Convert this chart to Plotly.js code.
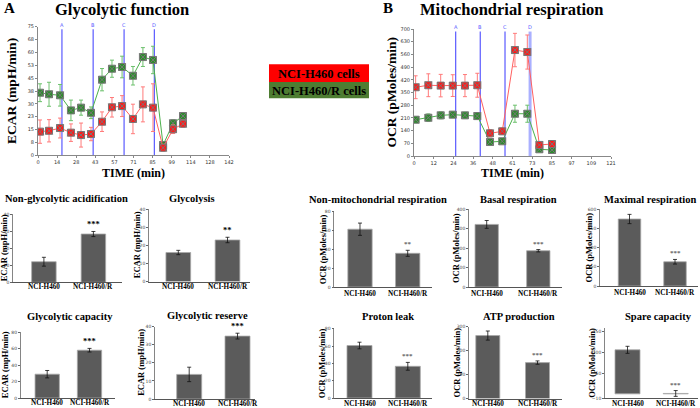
<!DOCTYPE html>
<html><head><meta charset="utf-8">
<script src="https://cdn.plot.ly/plotly-3.0.1.min.js"></script>
<style>html,body{margin:0;padding:0;background:#fff}#chart{width:700px;height:408px}</style>
</head><body><div id="chart"></div>
<script>
// ---------------- DATA ----------------
const cellLines = ['NCI-H460', 'NCI-H460/R'];
const legendLabels = ['NCI-H460 cells', 'NCI-H460/R cells'];
const injectionLabels = ['A', 'B', 'C', 'D'];

// Glycolytic function (ECAR, mpH/min)
const ecarTime = [1.5, 8.2, 16.4, 24.5, 32.0, 39.4, 47.6, 55.0, 62.5, 70.6, 78.0, 85.5, 93.0, 100.4, 107.8];
const ecarH460 = [13.8, 14.3, 15.9, 13.2, 11.8, 12.4, 19.6, 28.0, 28.7, 21.2, 29.7, 27.8, 4.4, 15.2, 18.4];
const ecarH460Err = [6.8, 6.5, 5.8, 5.1, 7.0, 3.9, 5.7, 5.7, 6.1, 8.6, 10.2, 13.9, 2.0, 2.5, 2.0];
const ecarH460R = [36.5, 35.6, 35.0, 26.2, 27.8, 24.8, 44.1, 50.5, 51.5, 46.4, 57.3, 55.6, 6.0, 18.7, 22.9];
const ecarH460RErr = [5.2, 7.0, 6.3, 6.0, 4.4, 3.4, 6.5, 5.0, 6.3, 5.4, 5.5, 8.0, 2.0, 2.0, 1.5];
const ecarInjections = [17.8, 41.0, 64.0, 86.5];
const ecarXTickText = ['0', '14', '28', '43', '57', '71', '85', '99', '114', '128', '142'];
const ecarYTickText = ['0', '8', '15', '23', '30', '38', '45', '53', '60', '68', '75'];

// Mitochondrial respiration (OCR, pMoles/min)
const ocrTime = [1.0, 8.8, 16.4, 23.8, 31.3, 38.9, 46.7, 54.2, 62.0, 69.6, 77.0, 84.8];
const ocrH460 = [379, 390, 388, 388, 388, 390, 125, 136, 584, 573, 61, 66];
const ocrH460Err = [63, 63, 62, 60, 61, 66, 20, 18, 92, 94, 12, 15];
const ocrH460R = [200, 211, 224, 228, 224, 220, 77, 81, 233, 233, 37, 33];
const ocrH460RErr = [16, 21, 19, 16, 16, 19, 6, 6, 47, 47, 6, 6];
const ocrInjections = [25.6, 40.7, 55.9, 71.3];
const ocrXTickText = ['0', '12', '24', '36', '48', '61', '73', '85', '97', '109', '121'];
const ocrYTickText = ['0', '70', '140', '210', '280', '350', '420', '490', '560', '630', '700'];

// Bar summaries [NCI-H460, NCI-H460/R]
const nonGlyVals = [12.1, 28.4], nonGlyErr = [2.6, 1.5], nonGlySig = '***';
const glycolysisVals = [16.0, 22.9], glycolysisErr = [1.2, 1.5], glycolysisSig = '**';
const glyCapVals = [29.0, 58.2], glyCapErr = [4.5, 2.2], glyCapSig = '***';
const glyResVals = [13.6, 34.8], glyResErr = [4.0, 1.6], glyResSig = '***';
const nonMitoVals = [61.4, 35.8], nonMitoErr = [6.5, 3.2], nonMitoSig = '**';
const basalVals = [321, 186], basalErr = [20, 6], basalSig = '***';
const maximalVals = [522, 189], maximalErr = [36, 18], maximalSig = '***';
const protonVals = [60.6, 36.6], protonErr = [3.8, 4.5], protonSig = '***';
const atpVals = [263, 150], atpErr = [19, 7], atpSig = '***';
const spareVals = [106.5, 1], spareErr = [8.5, 7], spareSig = '***';

// ---------------- LAYOUT HELPERS ----------------
const W = 700, H = 408;
const px = v => v / W;
const py = v => 1 - v / H;
const SERIF = 'Liberation Serif, Times New Roman, serif';
const RED = '#ff1a1a', GREEN = '#2e8b2e';

const traces = [];
const layout = {
  width: W, height: H, margin: {l: 0, r: 0, t: 0, b: 0},
  paper_bgcolor: '#fff', plot_bgcolor: 'rgba(0,0,0,0)',
  showlegend: false, shapes: [], annotations: [], font: {family: SERIF}
};

function ann(text, x, y, size, opts) {
  layout.annotations.push(Object.assign({
    text: text, xref: 'paper', yref: 'paper', x: px(x), y: py(y),
    xanchor: 'center', yanchor: 'middle', showarrow: false,
    font: {family: SERIF, size: size, color: '#000', weight: 'bold'}
  }, opts || {}));
}

// -------- top time-course panels --------
function timePanel(idx, geo, time, s1, e1, s2, e2, inj, xtt, ytt, xstep, ystep, ytitle) {
  const xa = 'xaxis' + idx, ya = 'yaxis' + idx;
  const xr = 'x' + idx, yr = 'y' + idx;
  layout[xa] = {
    domain: [px(geo.xl), px(geo.xr)], range: [0, xstep * (xtt.length - 1)], anchor: yr,
    tickvals: xtt.map((t, i) => i * xstep), ticktext: xtt, showgrid: false, zeroline: false,
    showline: true, linecolor: '#888', linewidth: 1, ticks: 'outside', ticklen: 2, tickcolor: '#888',
    tickfont: {size: 5, color: '#333', family: 'DejaVu Sans'}
  };
  layout[ya] = {
    domain: [py(geo.yb), py(geo.yt)], range: [0, ystep * (ytt.length - 1)], anchor: xr,
    tickvals: ytt.map((t, i) => i * ystep), ticktext: ytt, showgrid: false, zeroline: false,
    showline: true, linecolor: '#888', linewidth: 1, ticks: 'outside', ticklen: 2, tickcolor: '#888',
    tickfont: {size: 5, color: '#333', family: 'DejaVu Sans'}
  };
  inj.forEach((t, i) => {
    const last = (idx === 2 && i === 3);
    layout.shapes.push({type: 'line', xref: xr, yref: yr + ' domain', x0: t, x1: t, y0: 0, y1: 0.98,
      line: {color: last ? '#aab0ff' : '#5a5aff', width: last ? 3 : 1.2}, layer: 'below'});
    layout.annotations.push({text: injectionLabels[i], xref: xr, yref: yr + ' domain', x: t, y: 0.975,
      showarrow: false, xanchor: 'center', yanchor: 'bottom', font: {size: 5, color: '#5a5aff', family: 'DejaVu Sans'}});
  });
  const mk = (y, e, c, lc, ec) => ({
    type: 'scatter', mode: 'lines+markers', x: time, y: y, xaxis: xr, yaxis: yr,
    line: {color: lc, width: 1},
    marker: {symbol: 'square-x', size: 7, color: c, line: {color: '#777', width: 1}},
    error_y: {type: 'data', array: e, visible: true, color: ec, thickness: 1, width: 2}
  });
  traces.push(mk(s2, e2, GREEN, '#4cb04c', '#6cc06c'));
  traces.push(mk(s1, e1, RED, '#ff6060', '#ff7a7a'));
  ann(ytitle, geo.lx, (geo.yt + geo.yb) / 2, 13.5, {textangle: -90});
  ann('TIME (min)', (geo.xl + geo.xr) / 2, 173, 12);
}

timePanel(1, {xl: 38, xr: 229, yb: 155.3, yt: 26.7, lx: 11},
  ecarTime, ecarH460, ecarH460Err, ecarH460R, ecarH460RErr, ecarInjections,
  ecarXTickText, ecarYTickText, 14.2, 7.5, 'ECAR (mpH/min)');
timePanel(2, {xl: 414, xr: 611, yb: 156, yt: 29, lx: 391},
  ocrTime, ocrH460, ocrH460Err, ocrH460R, ocrH460RErr, ocrInjections,
  ocrXTickText, ocrYTickText, 12.1, 70, 'OCR (pMoles/min)');

ann('A', 9, 8, 15);
ann('Glycolytic function', 122, 9, 16.5);
ann('B', 388, 8, 15);
ann('Mitochondrial respiration', 511, 9, 16.5);

// legend boxes
layout.shapes.push({type: 'rect', xref: 'paper', yref: 'paper', x0: px(269), x1: px(369), y0: py(82), y1: py(64.3),
  fillcolor: '#ff0000', line: {width: 0}});
layout.shapes.push({type: 'rect', xref: 'paper', yref: 'paper', x0: px(269), x1: px(369), y0: py(98.3), y1: py(82),
  fillcolor: '#4e7d32', line: {width: 0}});
ann(legendLabels[0], 319, 73.5, 12.5);
ann(legendLabels[1], 319, 90.5, 12.5);

// -------- bar panels --------
const barPanels = [
  {title: 'Non-glycolytic acidification', yt: 'ECAR (mpH/min)', vals: nonGlyVals, errs: nonGlyErr, sig: nonGlySig,
   ticks: [0, 10, 20, 30, 40], yr: [0, 40], xl: 13, c0: 43.9, c1: 93.4, bw: 24.5, xr: 122, yb: 282.3, ytop: 214.3, ty: 198, tx: 66, lx: 4, left: true},
  {title: 'Glycolysis', yt: 'ECAR (mpH/min)', vals: glycolysisVals, errs: glycolysisErr, sig: glycolysisSig,
   ticks: [0, 10, 20, 30, 40], yr: [0, 40], xl: 149, c0: 178.3, c1: 227.5, bw: 24.7, xr: 250, yb: 281.5, ytop: 209, ty: 198, tx: 192, lx: 137, left: true},
  {title: 'Glycolytic capacity', yt: 'ECAR (mpH/min)', vals: glyCapVals, errs: glyCapErr, sig: glyCapSig,
   ticks: [0, 20, 40, 60, 80], yr: [0, 80], xl: 20.7, c0: 47.2, c1: 89.5, bw: 24.3, xr: 115, yb: 398, ytop: 332.3, ty: 316, tx: 70, lx: 5, left: true},
  {title: 'Glycolytic reserve', yt: 'ECAR (mpH/min)', vals: glyResVals, errs: glyResErr, sig: glyResSig,
   ticks: [0, 10, 20, 30, 40], yr: [0, 40], xl: 155, c0: 189.2, c1: 237.5, bw: 25, xr: 255, yb: 399, ytop: 326.7, ty: 315, tx: 207, lx: 141, left: true},
  {title: 'Non-mitochondrial respiration', yt: 'OCR (pMoles/min)', vals: nonMitoVals, errs: nonMitoErr, sig: nonMitoSig,
   ticks: [0, 20, 40, 60, 80], yr: [0, 80], xl: 334.3, c0: 360, c1: 407.7, bw: 24.3, xr: 432, yb: 287, ytop: 211.7, ty: 199, tx: 378, lx: 323},
  {title: 'Basal respiration', yt: 'OCR (pMoles/min)', vals: basalVals, errs: basalErr, sig: basalSig,
   ticks: [0, 100, 200, 300, 400], yr: [0, 400], xl: 469, c0: 486.7, c1: 538.3, bw: 23.3, xr: 562, yb: 287, ytop: 209, ty: 199, tx: 518, lx: 456},
  {title: 'Maximal respiration', yt: 'OCR (pMoles/min)', vals: maximalVals, errs: maximalErr, sig: maximalSig,
   ticks: [0, 150, 300, 450, 600], yr: [0, 600], xl: 600, c0: 629.5, c1: 675, bw: 22.5, xr: 698, yb: 286, ytop: 209, ty: 199, tx: 650, lx: 589},
  {title: 'Proton leak', yt: 'OCR (pMoles/min)', vals: protonVals, errs: protonErr, sig: protonSig,
   ticks: [0, 20, 40, 60, 80], yr: [0, 80], xl: 334.3, c0: 359.5, c1: 407.8, bw: 25, xr: 432, yb: 398, ytop: 328.7, ty: 316.7, tx: 388, lx: 322},
  {title: 'ATP production', yt: 'OCR (pMoles/min)', vals: atpVals, errs: atpErr, sig: atpSig,
   ticks: [0, 100, 200, 300], yr: [0, 300], xl: 469, c0: 487.8, c1: 537.5, bw: 24, xr: 562, yb: 398.5, ytop: 326.7, ty: 316.7, tx: 519, lx: 457},
  {title: 'Spare capacity', yt: 'OCR (pMoles/min)', vals: spareVals, errs: spareErr, sig: spareSig,
   ticks: [-10, 50, 100, 150], yr: [-10, 160], xl: 605, c0: 627.5, c1: 675.7, bw: 25, xr: 698, yb: 398, ytop: 327.7, ty: 316.7, tx: 658, lx: 592}
];

barPanels.forEach((p, i) => {
  const idx = i + 3;
  const xr = 'x' + idx, yr = 'y' + idx;
  const step = p.c1 - p.c0;
  layout['xaxis' + idx] = {
    domain: [px(p.xl), px(p.xr)], range: [(p.xl - p.c0) / step, (p.xr - p.c0) / step], anchor: yr,
    showticklabels: false, ticks: '', showgrid: false, zeroline: false,
    showline: true, linecolor: '#555', linewidth: 1
  };
  layout['yaxis' + idx] = {
    domain: [py(p.yb), py(p.ytop)], range: p.yr, anchor: xr, tickvals: p.ticks,
    showgrid: false, zeroline: false, showline: true, linecolor: '#666', linewidth: 0.8,
    ticks: 'outside', ticklen: 2, tickcolor: '#666',
    tickfont: {size: 4.5, color: '#444', family: 'DejaVu Sans'}
  };
  traces.push({
    type: 'bar', x: [0, 1], y: p.vals, xaxis: xr, yaxis: yr, width: p.bw / step,
    marker: {color: '#5b5b5b', line: {color: '#a8a8a8', width: 0.8}},
    error_y: {type: 'data', array: p.errs, visible: true, color: '#111', thickness: 0.8, width: 2}
  });
  const off = Math.min(p.left ? 5 : 6.5, 403.5 - p.yb);
  cellLines.forEach((c, k) => {
    layout.annotations.push({
      text: c, xref: xr, yref: 'paper', x: k, y: py(p.yb + off),
      xanchor: 'center', yanchor: 'middle', showarrow: false,
      font: {size: 7.2, color: '#000', family: SERIF, weight: 'bold'}
    });
  });
  layout.annotations.push({
    text: p.sig, xref: xr, yref: yr, x: 1, y: p.vals[1] + p.errs[1], yshift: 0,
    xanchor: 'center', yanchor: 'bottom', showarrow: false,
    font: p.left ? {size: 8.5, color: '#000', family: SERIF, weight: 'bold'} : {size: 7, color: '#666', family: SERIF, weight: 'bold'}
  });
  ann(p.title, p.tx, p.ty, 10.5);
  ann(p.yt, p.lx, (p.yb + p.ytop) / 2, 8.5, {textangle: -90});
});

Plotly.newPlot('chart', traces, layout, {staticPlot: true, displayModeBar: false});
</script>
</body></html>
